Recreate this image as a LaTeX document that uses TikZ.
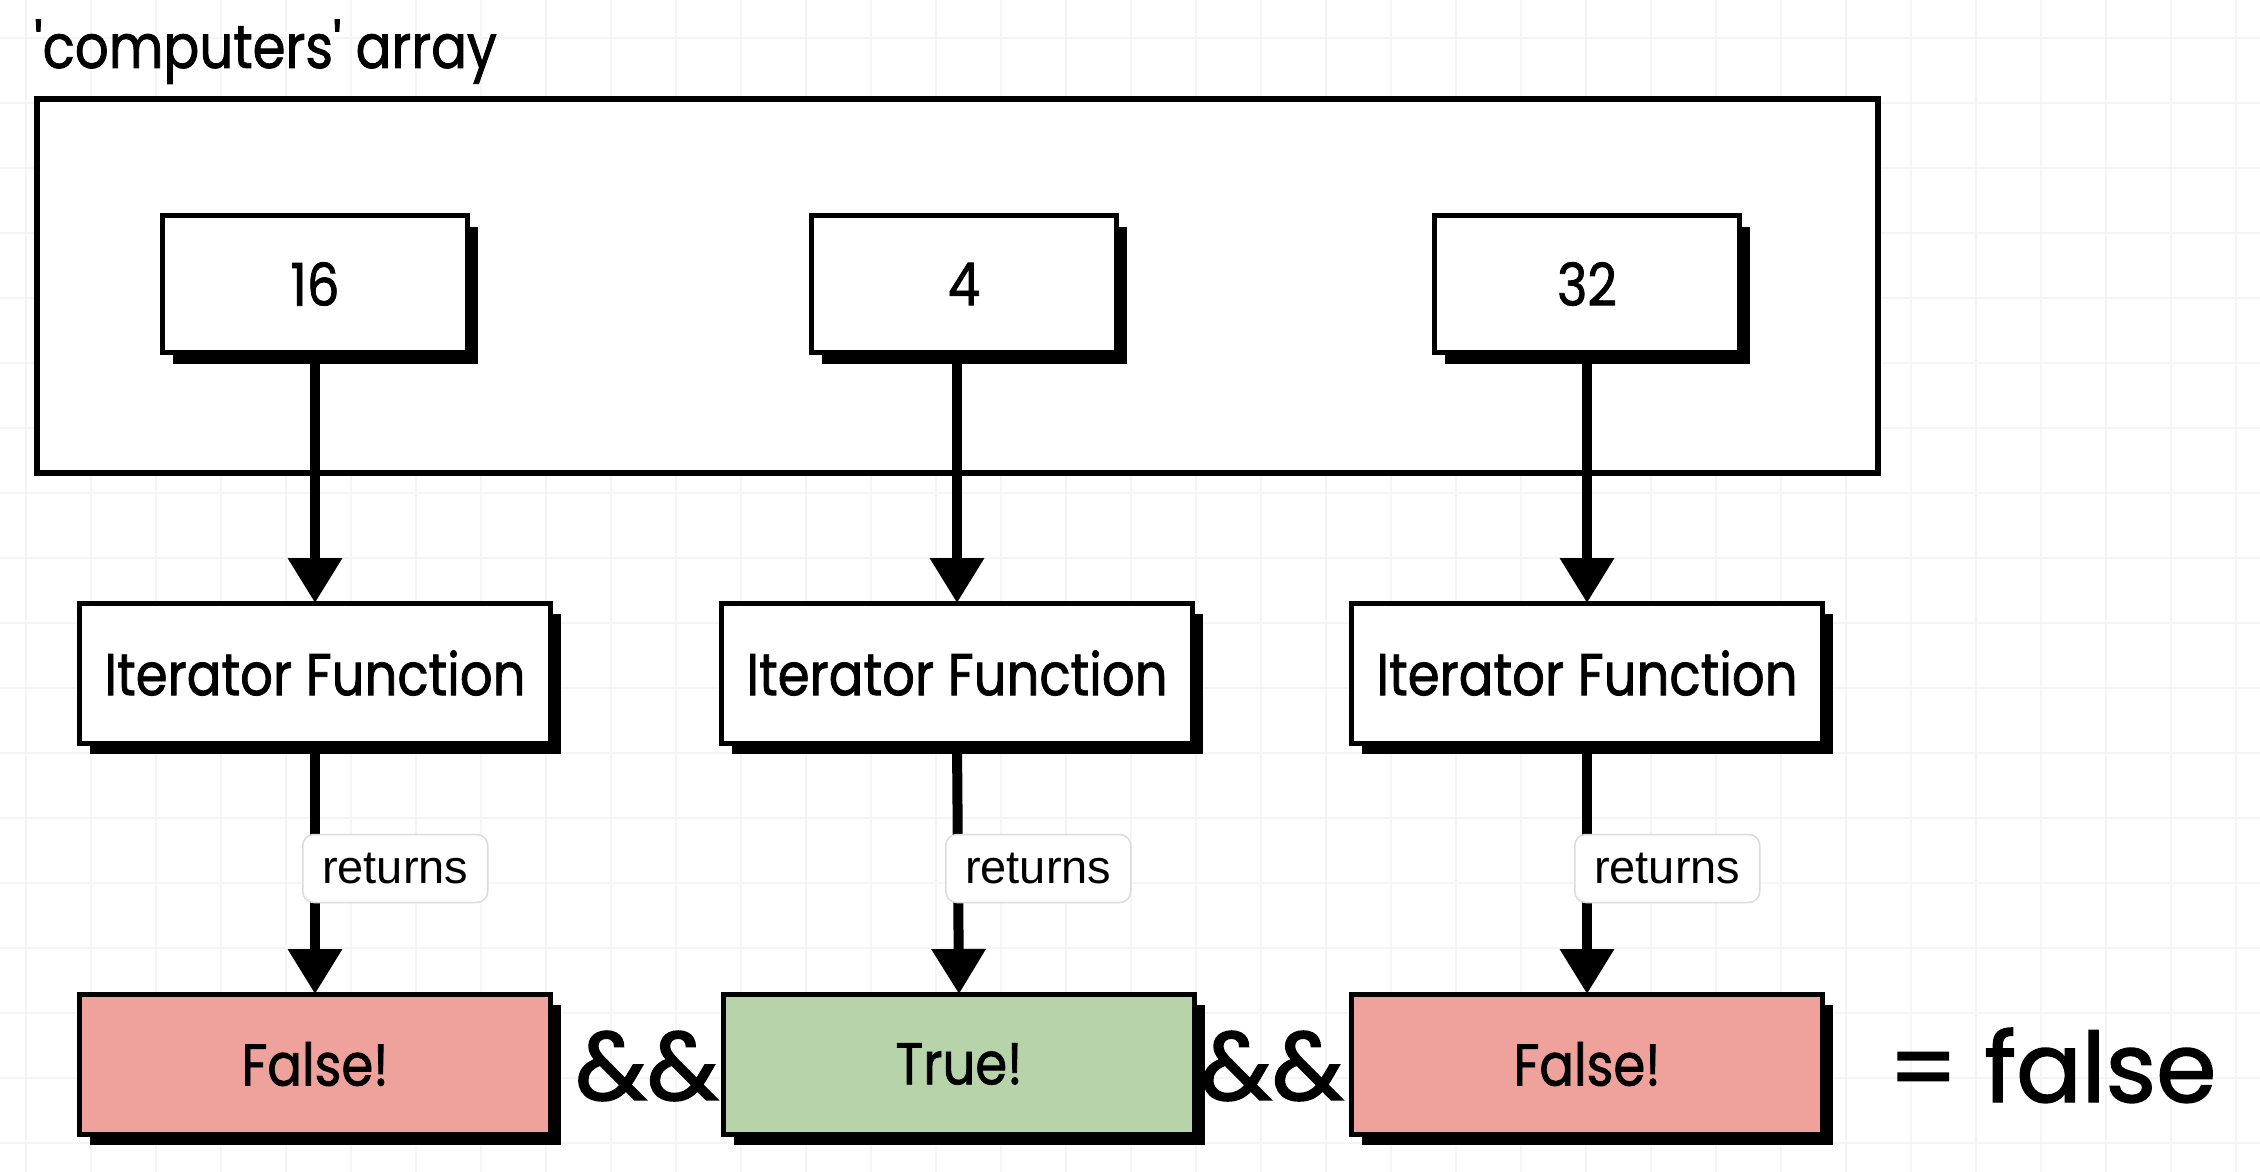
\documentclass[tikz,border=0pt]{standalone}
\usepackage{fontspec}
\setmainfont{Poppins}
\newfontfamily\hand[FakeStretch=0.87,FakeBold=1.3]{Poppins}
\newfontfamily\bigpop[FakeBold=1.5]{Poppins}
\newfontfamily\arialf{Liberation Sans}
\usetikzlibrary{arrows.meta,shadows,calc}
\definecolor{redfill}{HTML}{EFA19B}
\definecolor{greenfill}{HTML}{B6D3A9}
\definecolor{gridc}{HTML}{F5F5F5}
\tikzset{
  box/.style={draw=black, line width=5pt, fill=white, inner sep=0pt, outer sep=0pt,
    font=\hand\fontsize{59}{62}\selectfont,
    drop shadow={shadow xshift=10pt, shadow yshift=-11pt, opacity=1, fill=black}},
  valbox/.style={box, minimum width=305pt, minimum height=137pt},
  fnbox/.style={box, minimum width=471pt, minimum height=140pt},
  resbox/.style={box, minimum width=471pt, minimum height=140pt},
  arr/.style={line width=10pt, -{Triangle[length=45pt,width=52pt]}},
  lbl/.style={draw=black!14, line width=1.5pt, rounded corners=11pt, fill=white,
    font=\arialf\fontsize{47}{50}\selectfont, minimum width=185pt, minimum height=68pt,
    inner sep=0pt},
  bigtxt/.style={font=\bigpop\fontsize{97}{110}\selectfont, inner sep=0pt}
}
\begin{document}
\begin{tikzpicture}[x=1pt,y=-1pt]
\useasboundingbox (0,0) rectangle (2260,1172);
\fill[white] (0,0) rectangle (2260,1172);
\draw[gridc, line width=1.2pt, step=65pt, shift={(26pt,-38pt)}] (-26,-60) grid (2260,1172);
% title
\node[anchor=base west, inner sep=0pt, font=\hand\fontsize{61}{66}\selectfont] (title) at (34,68) {'computers' array};
% outer array box
\node[draw=black, line width=5.5pt, fill=white, inner sep=0pt, minimum width=1841pt, minimum height=374pt] (arr) at (957.5,286) {};
% value boxes
\node[valbox] (v1) at (315,284) {16};
\node[valbox] (v2) at (964,284) {4};
\node[valbox] (v3) at (1587,284) {32};
% iterator boxes
\node[fnbox] (f1) at (315,673) {Iterator Function};
\node[fnbox] (f2) at (957,673) {Iterator Function};
\node[fnbox] (f3) at (1587,673) {Iterator Function};
% results
\node[resbox, fill=redfill] (r1) at (315,1064) {False!};
\node[resbox, fill=greenfill] (r2) at (959,1064) {True!};
\node[resbox, fill=redfill] (r3) at (1587,1064) {False!};
% arrows
\draw[arr] (v1.south) -- (f1.north);
\draw[arr] (v2.south -| f2.north) -- (f2.north);
\draw[arr] (v3.south) -- (f3.north);
\draw[arr] (f1.south) -- (r1.north) node[lbl, pos=0.5, anchor=west, xshift=-13pt] (l1) {returns};
\draw[arr] (f2.south) -- (r2.north) node[lbl, pos=0.5, anchor=west, xshift=-13pt] (l2) {returns};
\draw[arr] (f3.south) -- (r3.north) node[lbl, pos=0.5, anchor=west, xshift=-13pt] (l3) {returns};
% operators
\node[bigtxt] (and1) at (647,1066) {\&\&};
\node[bigtxt] (and2) at (1272,1066) {\&\&};
\node[bigtxt, anchor=base west] (res) at (1888,1102) {= false};
\end{tikzpicture}
\end{document}
